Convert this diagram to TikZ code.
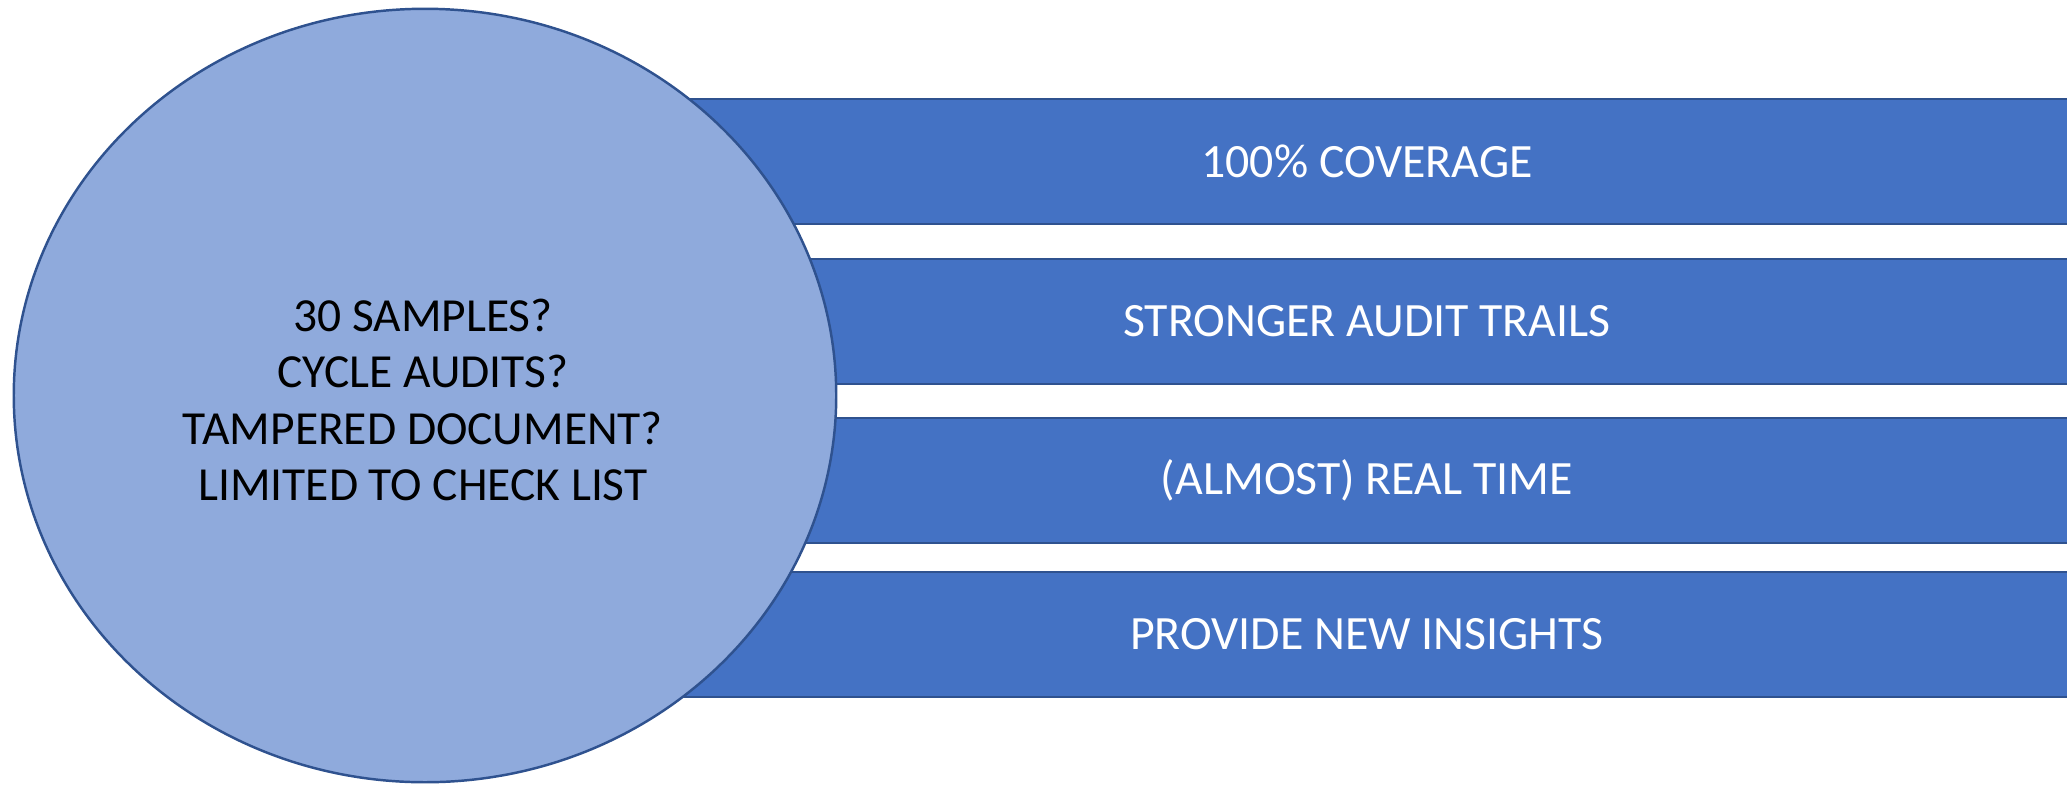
\documentclass[tikz,border=0pt]{standalone}
\usepackage{fontspec}
\setmainfont{Carlito}
\usetikzlibrary{shapes.geometric}

\definecolor{barblue}{HTML}{4472C4}
\definecolor{ringblue}{HTML}{8FAADC}
\definecolor{edgeblue}{HTML}{2F528F}

\begin{document}
\begin{tikzpicture}[x=0.01cm, y=-0.01cm,
    bar/.style={rectangle, draw=edgeblue, fill=barblue, line width=0.7pt,
        minimum width=15.8cm, minimum height=1.25cm, inner sep=0pt,
        text=white, font=\fontsize{13.6}{16}\selectfont},
    ring/.style={ellipse, draw=edgeblue, fill=ringblue, line width=0.7pt,
        minimum width=8.22cm, minimum height=7.73cm, inner sep=0pt}]

    % Page size
    \def\pw{2067}
    \def\ph{784}
    \def\xbar{1367}   % centre of the bars, x

    \useasboundingbox (0,0) rectangle (\pw,\ph);
    \clip (0,0) rectangle (\pw,\ph);

    % Bars, drawn behind the ellipse
    \foreach \i/\y/\t in {1/161.5/100\% COVERAGE,
                          2/321.5/STRONGER AUDIT TRAILS,
                          3/480.5/(ALMOST) REAL TIME,
                          4/634.5/PROVIDE NEW INSIGHTS}{
        \node[bar] (bar\i) at (\xbar,\y) {\t};
    }

    % Ellipse
    \node[ring] (ring) at (425,395.5) {};
    \node[align=center, font=\fontsize{13.5}{16}\selectfont] (ringtext) at (423,400)
        {30 SAMPLES?\\ CYCLE AUDITS?\\ TAMPERED DOCUMENT?\\ LIMITED TO CHECK LIST};

\end{tikzpicture}
\end{document}
